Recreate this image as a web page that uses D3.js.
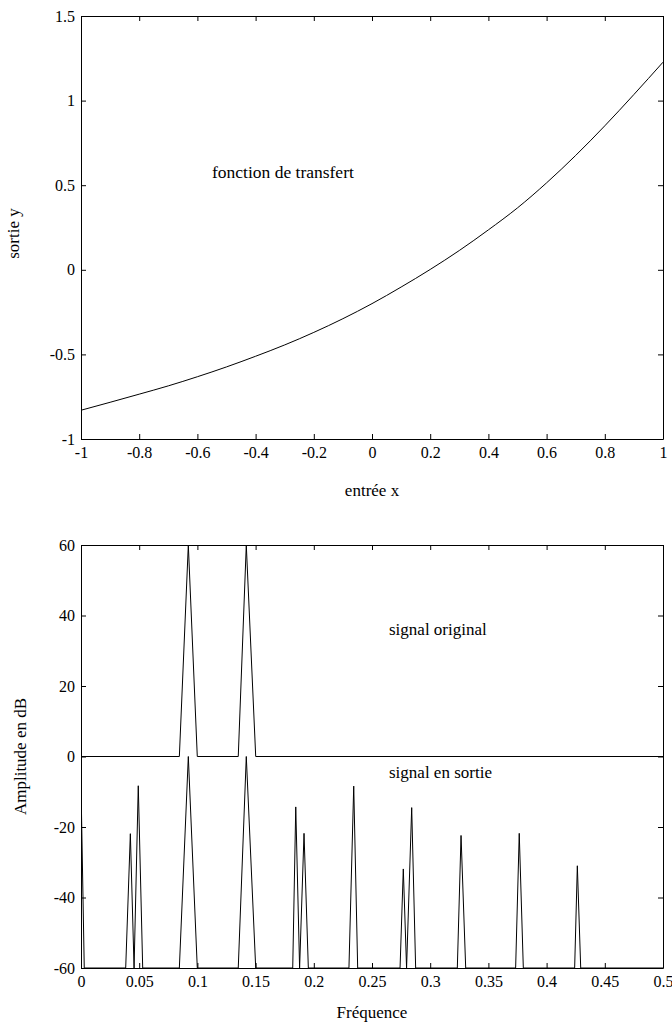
<!DOCTYPE html>
<html>
<head>
<meta charset="utf-8">
<script src="https://cdn.jsdelivr.net/npm/d3@7/dist/d3.min.js"></script>
<style>
  html, body { margin: 0; padding: 0; background: #fff; }
  svg { display: block; }
  text { font-family: "Liberation Serif", "DejaVu Serif", serif; fill: #000; }
</style>
</head>
<body>
<svg id="chart" width="672" height="1026"></svg>
<script>
// ---------- Data ----------
// Transfer function (top panel)
const transferX = [-1, -0.9, -0.8, -0.7, -0.6, -0.5, -0.4, -0.3, -0.2, -0.1, 0,
                   0.1, 0.2, 0.3, 0.4, 0.5, 0.6, 0.7, 0.8, 0.9, 1];
const transferY = [-0.830, -0.783, -0.735, -0.686, -0.632, -0.574, -0.511, -0.444, -0.370, -0.289, -0.200,
                   -0.102, 0.002, 0.114, 0.236, 0.366, 0.514, 0.676, 0.851, 1.036, 1.227];
const topXTicks = [-1, -0.8, -0.6, -0.4, -0.2, 0, 0.2, 0.4, 0.6, 0.8, 1];
const topXTickLabels = ["-1", "-0.8", "-0.6", "-0.4", "-0.2", "0", "0.2", "0.4", "0.6", "0.8", "1"];
const topYTicks = [-1, -0.5, 0, 0.5, 1, 1.5];
const topYTickLabels = ["-1", "-0.5", "0", "0.5", "1", "1.5"];

// Spectra (bottom panel): [frequency, amplitude dB]
const originalFreq = [0, 0.0845, 0.0922, 0.0999, 0.1351, 0.1420, 0.1501, 0.5];
const originalDb   = [0, 0,      60,     0,      0,      60,     0,      0];

const outputFreq = [0, 0, 0.0028,
  0.0384, 0.0424, 0.0456, 0.0492, 0.0530,
  0.0845, 0.0922, 0.0999,
  0.1351, 0.1420, 0.1501,
  0.1819, 0.1845, 0.1878, 0.1916, 0.1953,
  0.2302, 0.2343, 0.2377,
  0.2741, 0.2769, 0.2797, 0.2841, 0.2875,
  0.3233, 0.3265, 0.3305,
  0.3734, 0.3765, 0.3800,
  0.4241, 0.4264, 0.4293,
  0.5];
const outputDb = [-60, -8.2, -60,
  -60, -21.9, -60, -8.3, -60,
  -60, 0, -60,
  -60, 0, -60,
  -60, -14.3, -60, -21.8, -60,
  -60, -8.4, -60,
  -60, -31.9, -60, -14.5, -60,
  -60, -22.4, -60,
  -60, -21.8, -60,
  -60, -31.0, -60,
  -60];
const botXTicks = [0, 0.05, 0.1, 0.15, 0.2, 0.25, 0.3, 0.35, 0.4, 0.45, 0.5];
const botXTickLabels = ["0", "0.05", "0.1", "0.15", "0.2", "0.25", "0.3", "0.35", "0.4", "0.45", "0.5"];
const botYTicks = [-60, -40, -20, 0, 20, 40, 60];
const botYTickLabels = ["-60", "-40", "-20", "0", "20", "40", "60"];

// ---------- Drawing ----------
const svg = d3.select("#chart");
const FS = 16;      // tick label size
const LFS = 17;     // labels / annotations

function panel(cfg) {
  const g = svg.append("g");
  const x = d3.scaleLinear().domain(cfg.xDomain).range([cfg.left, cfg.right]);
  const y = d3.scaleLinear().domain(cfg.yDomain).range([cfg.bottom, cfg.top]);

  const clipId = "clip" + cfg.id;
  svg.append("clipPath").attr("id", clipId).append("rect")
    .attr("x", cfg.left).attr("y", cfg.top)
    .attr("width", cfg.right - cfg.left).attr("height", cfg.bottom - cfg.top);

  const fmtX = (d, i) => cfg.xLabels[i];
  const fmtY = (d, i) => cfg.yLabels[i];

  const styleAxis = sel => {
    sel.selectAll("path.domain").attr("stroke", "#000").attr("stroke-width", 1);
    sel.selectAll(".tick line").attr("stroke", "#000").attr("stroke-width", 1);
    sel.selectAll("text").attr("font-size", FS).attr("font-family", "Liberation Serif").attr("fill", "#000");
  };

  g.append("g").attr("transform", `translate(0,${cfg.bottom})`)
    .call(d3.axisBottom(x).tickValues(cfg.xTicks).tickFormat(fmtX).tickSizeInner(-5).tickSizeOuter(0).tickPadding(8))
    .call(styleAxis);
  g.append("g").attr("transform", `translate(0,${cfg.top})`)
    .call(d3.axisTop(x).tickValues(cfg.xTicks).tickFormat("").tickSizeInner(-5).tickSizeOuter(0))
    .call(styleAxis);
  g.append("g").attr("transform", `translate(${cfg.left},0)`)
    .call(d3.axisLeft(y).tickValues(cfg.yTicks).tickFormat(fmtY).tickSizeInner(-5).tickSizeOuter(0).tickPadding(6))
    .call(styleAxis);
  g.append("g").attr("transform", `translate(${cfg.right},0)`)
    .call(d3.axisRight(y).tickValues(cfg.yTicks).tickFormat("").tickSizeInner(-5).tickSizeOuter(0))
    .call(styleAxis);

  return { g, x, y, clipId };
}

// Top panel
const P1 = panel({
  id: 1, left: 81, right: 663, top: 16, bottom: 439,
  xDomain: [-1, 1], yDomain: [-1, 1.5],
  xTicks: topXTicks, xLabels: topXTickLabels,
  yTicks: topYTicks, yLabels: topYTickLabels
});
const transferPts = transferX.map((v, i) => [v, transferY[i]]);
P1.g.append("path")
  .datum(transferPts)
  .attr("clip-path", `url(#${P1.clipId})`)
  .attr("fill", "none").attr("stroke", "#000").attr("stroke-width", 1)
  .attr("d", d3.line().x(d => P1.x(d[0])).y(d => P1.y(d[1])).curve(d3.curveMonotoneX));

P1.g.append("text").attr("x", P1.x(-0.55)).attr("y", 178)
  .attr("font-size", 17.5).text("fonction de transfert");
P1.g.append("text").attr("x", P1.x(0)).attr("y", 496)
  .attr("text-anchor", "middle").attr("font-size", LFS).text("entrée x");
P1.g.append("text").attr("transform", `translate(19,${(16 + 439) / 2 + 6}) rotate(-90)`)
  .attr("text-anchor", "middle").attr("font-size", LFS).text("sortie y");

// Bottom panel
const P2 = panel({
  id: 2, left: 81, right: 663, top: 545, bottom: 968,
  xDomain: [0, 0.5], yDomain: [-60, 60],
  xTicks: botXTicks, xLabels: botXTickLabels,
  yTicks: botYTicks, yLabels: botYTickLabels
});
const lineGen = d3.line().x(d => P2.x(d[0])).y(d => P2.y(d[1]));
P2.g.append("path")
  .datum(originalFreq.map((f, i) => [f, originalDb[i]]))
  .attr("clip-path", `url(#${P2.clipId})`)
  .attr("fill", "none").attr("stroke", "#000").attr("stroke-width", 1)
  .attr("d", lineGen);
P2.g.append("path")
  .datum(outputFreq.map((f, i) => [f, outputDb[i]]))
  .attr("clip-path", `url(#${P2.clipId})`)
  .attr("fill", "none").attr("stroke", "#000").attr("stroke-width", 1)
  .attr("d", lineGen);

P2.g.append("text").attr("x", 389).attr("y", 635)
  .attr("font-size", LFS).text("signal original");
P2.g.append("text").attr("x", 389).attr("y", 778)
  .attr("font-size", LFS).text("signal en sortie");
P2.g.append("text").attr("x", P2.x(0.25)).attr("y", 1018)
  .attr("text-anchor", "middle").attr("font-size", LFS).text("Fréquence");
P2.g.append("text").attr("transform", `translate(26,${(545 + 968) / 2}) rotate(-90)`)
  .attr("text-anchor", "middle").attr("font-size", LFS).text("Amplitude en dB");
</script>
</body>
</html>
